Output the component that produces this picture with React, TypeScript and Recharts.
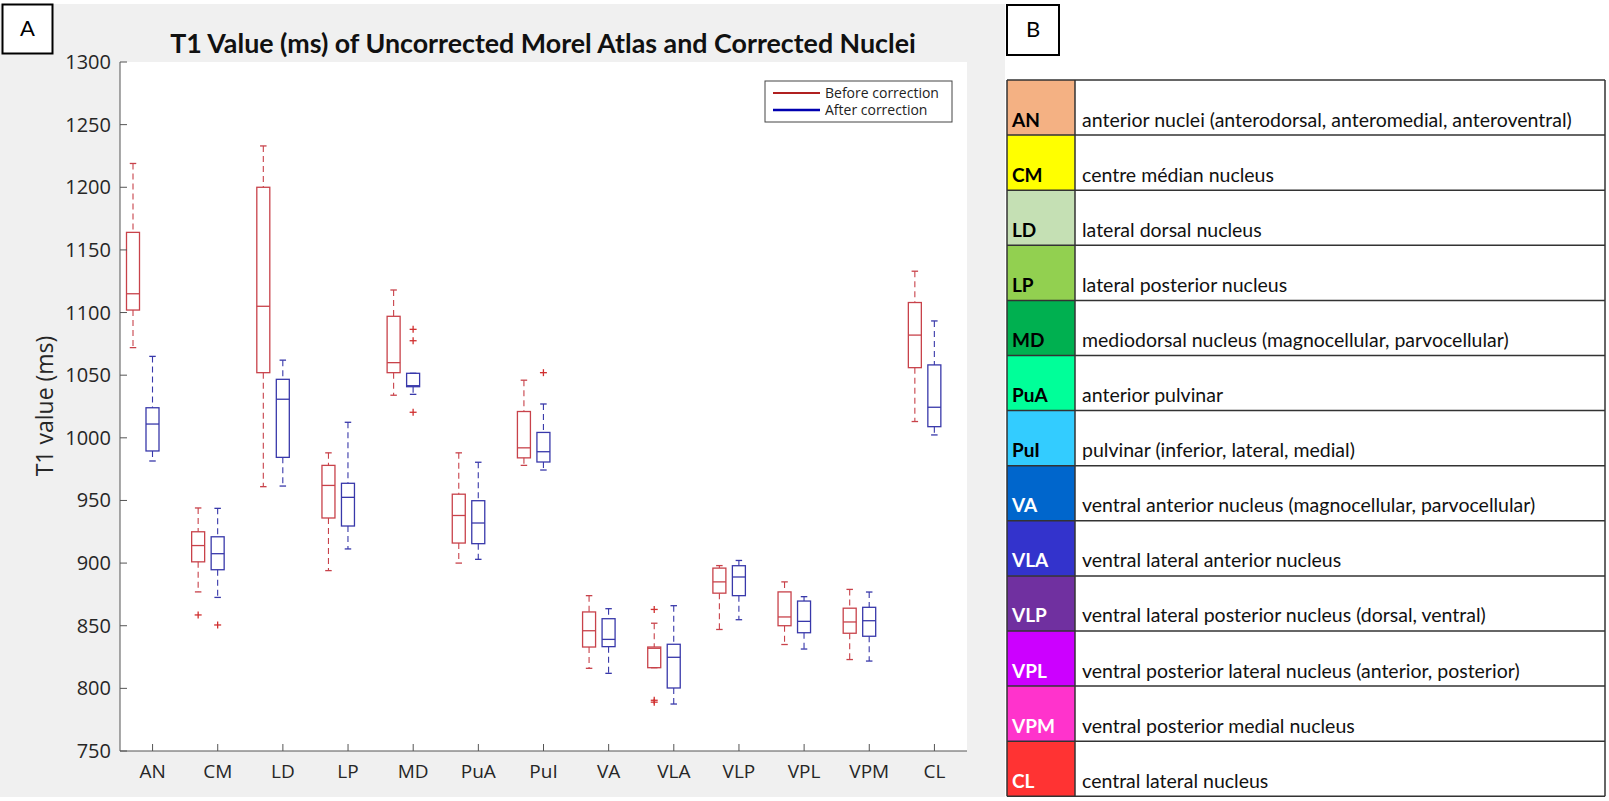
import { ComposedChart, Bar, XAxis, YAxis, CartesianGrid } from "recharts";

// ── data ──────────────────────────────────────────────────────────────────────
const nuclei = ["AN", "CM", "LD", "LP", "MD", "PuA", "PuI", "VA", "VLA", "VLP", "VPL", "VPM", "CL"];

// before correction (red)
const beforeLow    = [1072, 877, 961, 894, 1034, 900, 978, 816, 816.5, 847, 835, 823, 1013];
const beforeQ1     = [1102, 901, 1052, 936, 1052, 916, 984, 833, 816.5, 876, 850, 844, 1056];
const beforeMedian = [1115, 914, 1105, 962, 1060, 938, 992, 846, 832, 885, 857, 853, 1082];
const beforeQ3     = [1164, 925, 1200, 978, 1097, 955, 1021, 861, 833, 896, 877, 864, 1108];
const beforeHigh   = [1219, 944, 1233, 988, 1118, 988, 1046, 874, 852, 898, 885, 879, 1133];
const beforeOutliers = [[], [858.6], [], [], [], [], [], [], [863, 790.5, 789], [], [], [], []];

// after correction (blue)
const afterLow    = [981.5, 872.6, 961.5, 911.3, 1034.7, 903, 974.3, 812, 787.5, 854.8, 831.4, 821.8, 1002.3];
const afterQ1     = [989.5, 894.7, 984.4, 929.6, 1040.8, 915.5, 980.7, 833.3, 800.3, 874, 844.4, 841.6, 1008.9];
const afterMedian = [1011, 907.5, 1030.8, 952.5, 1041.6, 932, 988.9, 839.1, 824.8, 888.9, 853.5, 854, 1024.4];
const afterQ3     = [1024, 921, 1046.7, 963.7, 1051.5, 949.8, 1004.3, 855.6, 835.2, 897.9, 869.7, 864.7, 1058.2];
const afterHigh   = [1065, 943.7, 1062, 1012.4, 1051.5, 980.5, 1027, 863.6, 866, 902.1, 873.2, 876.9, 1093.3];
const afterOutliers = [[], [850.6], [], [], [1086.6, 1077.5, 1020.4], [], [1052], [], [], [], [], [], []];

const yTicks = [750, 800, 850, 900, 950, 1000, 1050, 1100, 1150, 1200, 1250, 1300];
const legendLabels = ["Before correction", "After correction"];

// panel B table
const tableDescriptions = [
  "anterior nuclei (anterodorsal, anteromedial, anteroventral)",
  "centre médian nucleus",
  "lateral dorsal nucleus",
  "lateral posterior nucleus",
  "mediodorsal nucleus (magnocellular, parvocellular)",
  "anterior pulvinar",
  "pulvinar (inferior, lateral, medial)",
  "ventral anterior nucleus (magnocellular, parvocellular)",
  "ventral lateral anterior nucleus",
  "ventral lateral posterior nucleus (dorsal, ventral)",
  "ventral posterior lateral nucleus (anterior, posterior)",
  "ventral posterior medial nucleus",
  "central lateral nucleus",
];
const tableColors = ["#f4b183", "#ffff00", "#c5e0b4", "#92d050", "#00b050", "#00ff99", "#33ccff",
  "#0066cc", "#3333cc", "#7030a0", "#cc00ff", "#ff33cc", "#ff3333"];
const tableTextColors = ["#000", "#000", "#000", "#000", "#000", "#000", "#000",
  "#fff", "#fff", "#fff", "#fff", "#fff", "#fff"];

// ── styling ───────────────────────────────────────────────────────────────────
const RED = "#c8424a";
const BLUE = "#3838aa";
const OUTLIER = "#d03030";
const AXIS = "#555";
const TICK_FONT = "'Open Sans', sans-serif";
const CAL_FONT = "Lato, sans-serif";

type Stats = { lo: number; q1: number; med: number; q3: number; hi: number; out: number[] };

const rows = nuclei.map((name, i) => {
  const before: Stats = { lo: beforeLow[i], q1: beforeQ1[i], med: beforeMedian[i], q3: beforeQ3[i], hi: beforeHigh[i], out: beforeOutliers[i] };
  const after: Stats = { lo: afterLow[i], q1: afterQ1[i], med: afterMedian[i], q3: afterQ3[i], hi: afterHigh[i], out: afterOutliers[i] };
  const all = [before.lo, before.hi, after.lo, after.hi, ...before.out, ...after.out];
  return { name, before, after, range: [Math.min(...all), Math.max(...all)] };
});

// one box with dashed whiskers, caps, median and "+" outliers
function BoxGlyph({ s, cx, bw, py, color }: { s: Stats; cx: number; bw: number; py: (v: number) => number; color: string }) {
  const half = bw * 0.1;
  const cap = bw * 0.05;
  return (
    <g>
      <line x1={cx} x2={cx} y1={py(s.hi)} y2={py(s.q3)} stroke={color} strokeWidth={1.1} strokeDasharray="6 4" />
      <line x1={cx} x2={cx} y1={py(s.q1)} y2={py(s.lo)} stroke={color} strokeWidth={1.1} strokeDasharray="6 4" />
      <line x1={cx - cap} x2={cx + cap} y1={py(s.hi)} y2={py(s.hi)} stroke={color} strokeWidth={1.3} />
      <line x1={cx - cap} x2={cx + cap} y1={py(s.lo)} y2={py(s.lo)} stroke={color} strokeWidth={1.3} />
      <rect x={cx - half} y={py(s.q3)} width={half * 2} height={Math.max(0.5, py(s.q1) - py(s.q3))}
        fill="none" stroke={color} strokeWidth={1.3} />
      <line x1={cx - half} x2={cx + half} y1={py(s.med)} y2={py(s.med)} stroke={color} strokeWidth={1.3} />
      {s.out.map((v, k) => (
        <g key={k} stroke={OUTLIER} strokeWidth={1.3}>
          <line x1={cx - 3.5} x2={cx + 3.5} y1={py(v)} y2={py(v)} />
          <line x1={cx} x2={cx} y1={py(v) - 3.5} y2={py(v) + 3.5} />
        </g>
      ))}
    </g>
  );
}

// bar shape: the bar spans the full range of a category; draw both boxes inside it
function BoxPair(props: any) {
  const { x, y, width, height, payload } = props;
  const [lo, hi] = payload.range;
  const py = (v: number) => y + ((hi - v) / (hi - lo)) * height;
  const c = x + width / 2;
  return (
    <g>
      <BoxGlyph s={payload.before} cx={c - 0.3 * width} bw={width} py={py} color={RED} />
      <BoxGlyph s={payload.after} cx={c} bw={width} py={py} color={BLUE} />
    </g>
  );
}

// inward tick marks, MATLAB style
const BottomTick = ({ x, y, payload }: any) => (
  <g>
    <line x1={x} x2={x} y1={y} y2={y - 7} stroke={AXIS} />
    <text x={x} y={y + 27} textAnchor="middle" fontSize={19} fontFamily={TICK_FONT} fill="#262626">{payload.value}</text>
  </g>
);
const TopTick = ({ x, y }: any) => <line x1={x} x2={x} y1={y} y2={y + 7} stroke={AXIS} />;
const LeftTick = ({ x, y, payload }: any) => (
  <g>
    <line x1={x} x2={x + 7} y1={y} y2={y} stroke={AXIS} />
    <text x={x - 9} y={y + 7} textAnchor="end" fontSize={20} fontFamily={TICK_FONT} fill="#262626">{payload.value}</text>
  </g>
);
const RightTick = ({ x, y }: any) => <line x1={x} x2={x - 7} y1={y} y2={y} stroke={AXIS} />;

const ROW_TOP = 80;
const ROW_H = 55.1;

export default function App() {
  return (
    <div style={{ position: "absolute", left: 0, top: 0, width: 1609, height: 801, background: "#fff", overflow: "hidden" }}>
      {/* grey figure background of panel A */}
      <div style={{ position: "absolute", left: 0, top: 4, width: 1005, height: 793, background: "#f0f0f0" }} />

      <div style={{ position: "absolute", left: 0, top: 0 }}>
        <ComposedChart width={1005} height={801} data={rows} barCategoryGap={0}
          margin={{ top: 62, right: 38, bottom: 20, left: 60 }}>
          <CartesianGrid horizontal={false} vertical={false} fill="#fff" />
          <XAxis dataKey="name" height={30} tickSize={0} tickMargin={0} tickLine={false}
            axisLine={{ stroke: AXIS }} tick={<BottomTick />} interval={0} />
          <XAxis xAxisId="top" dataKey="name" orientation="top" height={0} tickSize={0} tickMargin={0}
            tickLine={false} axisLine={{ stroke: AXIS }} tick={<TopTick />} interval={0} />
          <YAxis domain={[750, 1300]} ticks={yTicks} width={60} tickSize={0} tickMargin={0} tickLine={false}
            axisLine={{ stroke: AXIS }} tick={<LeftTick />} interval={0} />
          <YAxis yAxisId="right" orientation="right" domain={[750, 1300]} ticks={yTicks} width={0}
            tickSize={0} tickMargin={0} tickLine={false} axisLine={{ stroke: AXIS }} tick={<RightTick />} interval={0} />
          <Bar dataKey="range" shape={<BoxPair />} isAnimationActive={false} />
        </ComposedChart>
      </div>

      <svg width={1609} height={801} style={{ position: "absolute", left: 0, top: 0, pointerEvents: "none" }}>
        {/* panel labels */}
        <rect x={2.5} y={4.5} width={50} height={49} fill="#fff" stroke="#000" strokeWidth={2} />
        <text x={27.5} y={36} textAnchor="middle" fontSize={22} fontFamily={CAL_FONT}>A</text>
        <rect x={1007} y={5} width={52} height={50} fill="#fff" stroke="#000" strokeWidth={2} />
        <text x={1033} y={37} textAnchor="middle" fontSize={22} fontFamily={CAL_FONT}>B</text>

        {/* title and axis label */}
        <text x={543} y={53} textAnchor="middle" fontSize={26.8} fontWeight="bold" fontFamily={CAL_FONT} fill="#111">
          T1 Value (ms) of Uncorrected Morel Atlas and Corrected Nuclei
        </text>
        <text transform="translate(53,406) rotate(-90)" textAnchor="middle" fontSize={23} fontFamily={TICK_FONT} fill="#262626">
          T1 value (ms)
        </text>

        {/* legend */}
        <rect x={765} y={81} width={187} height={41} fill="#fff" stroke="#444" strokeWidth={1} />
        {legendLabels.map((label, i) => (
          <g key={label}>
            <line x1={773} x2={820} y1={93 + i * 17} y2={93 + i * 17} stroke={i === 0 ? "#b02020" : "#0000b0"} strokeWidth={i === 0 ? 2 : 2.6} />
            <text x={825} y={98 + i * 17} fontSize={14} fontFamily={TICK_FONT} fill="#222">{label}</text>
          </g>
        ))}

        {/* panel B table */}
        {nuclei.map((abbr, i) => {
          const y0 = ROW_TOP + i * ROW_H;
          return (
            <g key={abbr}>
              <rect x={1007} y={y0} width={68} height={ROW_H} fill={tableColors[i]} />
              <text x={1012} y={y0 + 46.5} fontSize={19} fontWeight="bold" fontFamily={CAL_FONT} fill={tableTextColors[i]}>{abbr}</text>
              <text x={1082} y={y0 + 46.5} fontSize={19.5} fontFamily={CAL_FONT} fill="#111">{tableDescriptions[i]}</text>
              <line x1={1007} x2={1605} y1={y0} y2={y0} stroke="#333" strokeWidth={1.5} />
            </g>
          );
        })}
        <line x1={1007} x2={1605} y1={ROW_TOP + 13 * ROW_H} y2={ROW_TOP + 13 * ROW_H} stroke="#333" strokeWidth={1.5} />
        <line x1={1007} x2={1007} y1={ROW_TOP} y2={ROW_TOP + 13 * ROW_H} stroke="#333" strokeWidth={1.5} />
        <line x1={1075} x2={1075} y1={ROW_TOP} y2={ROW_TOP + 13 * ROW_H} stroke="#333" strokeWidth={1.5} />
        <line x1={1605} x2={1605} y1={ROW_TOP} y2={ROW_TOP + 13 * ROW_H} stroke="#333" strokeWidth={1.5} />
      </svg>
    </div>
  );
}
